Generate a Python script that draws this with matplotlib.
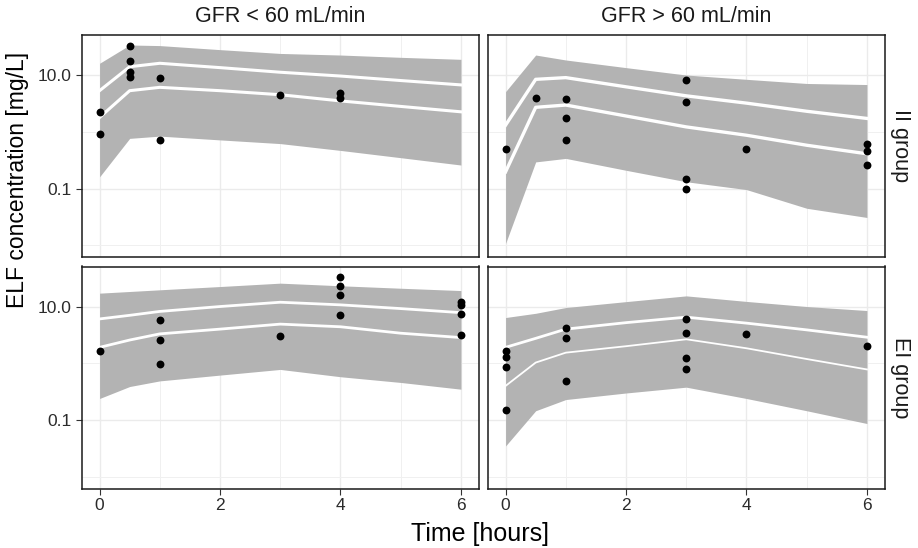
import matplotlib
matplotlib.use("Agg")
import matplotlib.pyplot as plt
from matplotlib.ticker import FixedLocator, NullFormatter

plt.rcParams['font.family'] = ['Liberation Sans', 'DejaVu Sans']

# data
times = [0, 0.5, 1, 2, 3, 4, 5, 6]
col_labels = ['GFR < 60 mL/min', 'GFR > 60 mL/min']
row_labels = ['II group', 'EI group']

# II group, GFR < 60
ii_lt_lo = [0.161, 0.766, 0.84, 0.72, 0.62, 0.47, 0.35, 0.26]
ii_lt_mlo = [1.79, 5.3, 6.07, 5.3, 4.5, 3.5, 2.8, 2.25]
ii_lt_mhi = [5.3, 14.0, 16.1, 13.5, 11.2, 9.6, 8.0, 6.7]
ii_lt_hi = [16.1, 33.8, 33.0, 28.0, 24.0, 22.5, 20.5, 18.9]
ii_lt_t = [0, 0, 0.5, 0.5, 0.5, 0.5, 1, 1, 3, 4, 4]
ii_lt_c = [2.25, 0.9, 32.4, 17.9, 11.5, 9.3, 9.0, 0.73, 4.4, 4.9, 4.0]

# II group, GFR > 60
ii_gt_lo = [0.0108, 0.295, 0.34, 0.21, 0.132, 0.096, 0.045, 0.031]
ii_gt_mlo = [0.197, 2.7, 2.96, 1.9, 1.22, 0.87, 0.58, 0.41]
ii_gt_mhi = [1.31, 8.4, 9.0, 6.2, 4.3, 3.2, 2.3, 1.72]
ii_gt_hi = [5.1, 22.5, 18.4, 13.5, 10.0, 8.4, 7.1, 6.8]
ii_gt_t = [0, 0.5, 1, 1, 1, 3, 3, 3, 3, 4, 6, 6, 6]
ii_gt_c = [0.50, 4.0, 3.8, 1.72, 0.73, 8.1, 3.3, 0.15, 0.10, 0.50, 0.61, 0.45, 0.26]

# EI group, GFR < 60
ei_lt_lo = [0.24, 0.39, 0.49, 0.62, 0.78, 0.58, 0.46, 0.35]
ei_lt_mlo = [1.91, 2.57, 3.3, 4.0, 4.9, 4.4, 3.39, 2.84]
ei_lt_mhi = [6.05, 7.0, 8.2, 10.0, 11.9, 10.7, 9.2, 7.8]
ei_lt_hi = [17.2, 18.4, 19.7, 22.5, 25.8, 23.2, 21.0, 19.1]
ei_lt_t = [0, 1, 1, 1, 3, 4, 4, 4, 4, 6, 6, 6, 6]
ei_lt_c = [1.65, 5.9, 2.62, 0.96, 3.08, 33.4, 23.2, 16.1, 7.1, 11.9, 10.7, 7.4, 3.16]

# EI group, GFR > 60
ei_gt_lo = [0.035, 0.146, 0.23, 0.3, 0.38, 0.24, 0.146, 0.087]
ei_gt_mlo = [0.40, 1.03, 1.54, 2.0, 2.65, 1.84, 1.19, 0.78]
ei_gt_mhi = [1.91, 2.75, 4.0, 5.2, 6.5, 5.1, 3.88, 2.88]
ei_gt_hi = [6.4, 7.6, 9.6, 12.2, 15.4, 12.3, 10.0, 8.5]
ei_gt_t = [0, 0, 0, 0, 1, 1, 1, 3, 3, 3, 3, 4, 6]
ei_gt_c = [1.67, 1.28, 0.86, 0.15, 4.15, 2.8, 0.48, 6.1, 3.38, 1.26, 0.79, 3.3, 2.02]

panels = [
    [(ii_lt_lo, ii_lt_mlo, ii_lt_mhi, ii_lt_hi, ii_lt_t, ii_lt_c),
     (ii_gt_lo, ii_gt_mlo, ii_gt_mhi, ii_gt_hi, ii_gt_t, ii_gt_c)],
    [(ei_lt_lo, ei_lt_mlo, ei_lt_mhi, ei_lt_hi, ei_lt_t, ei_lt_c),
     (ei_gt_lo, ei_gt_mlo, ei_gt_mhi, ei_gt_hi, ei_gt_t, ei_gt_c)],
]

# white line widths per panel (lower, upper)
line_w = [[(2.2, 2.2), (2.4, 2.4)], [(2.0, 2.0), (1.3, 2.0)]]

# layout (pixels of a 918x548 canvas)
W, H = 918, 548
col_x = [81.5, 487.5]
row_y = [35, 266.5]
pw, ph = 397.5, 222

fig = plt.figure(figsize=(W / 100, H / 100), dpi=100)

for r in range(2):
    for c in range(2):
        lo, mlo, mhi, hi, pt, pc = panels[r][c]
        ax = fig.add_axes([col_x[c] / W, 1 - (row_y[r] + ph) / H, pw / W, ph / H])
        ax.set_yscale('log')
        ax.set_xlim(-0.3, 6.3)
        ax.set_ylim(10 ** -2.205, 10 ** 1.705)

        ax.fill_between(times, lo, hi, color='#B3B3B3', lw=0, zorder=2)
        ax.plot(times, mlo, color='white', lw=line_w[r][c][0], zorder=3)
        ax.plot(times, mhi, color='white', lw=line_w[r][c][1], zorder=3)
        ax.scatter(pt, pc, s=32, color='black', lw=0, zorder=4)

        ax.xaxis.set_major_locator(FixedLocator([0, 2, 4, 6]))
        ax.xaxis.set_minor_locator(FixedLocator([1, 3, 5]))
        ax.yaxis.set_major_locator(FixedLocator([0.1, 10]))
        ax.yaxis.set_minor_locator(FixedLocator([0.01, 1]))
        ax.yaxis.set_minor_formatter(NullFormatter())
        ax.grid(which='major', color='#EBEBEB', lw=1.0, zorder=0)
        ax.grid(which='minor', color='#F0F0F0', lw=0.7, zorder=0)
        ax.set_axisbelow(True)
        ax.tick_params(which='minor', length=0)
        ax.tick_params(which='major', length=4, width=0.8, color='#333333',
                       labelsize=12.5, labelcolor='#2B2B2B', pad=3)
        for sp in ax.spines.values():
            sp.set_color('#1A1A1A')
            sp.set_linewidth(1.1)

        if c == 0:
            ax.set_yticklabels(['0.1', '10.0'])
        else:
            ax.tick_params(axis='y', length=0, labelleft=False)
        if r == 1:
            ax.set_xticklabels(['0', '2', '4', '6'])
        else:
            ax.tick_params(axis='x', length=0, labelbottom=False)

        if r == 0:
            ax.text(0.5, 1.0 + 18 / ph, col_labels[c], transform=ax.transAxes,
                    ha='center', va='center', fontsize=15.5, color='#1A1A1A')
        if c == 1:
            ax.text(1.0 + 16 / pw, 0.5, row_labels[r], transform=ax.transAxes,
                    ha='center', va='center', rotation=-90, fontsize=15.5,
                    color='#1A1A1A')

fig.text(480 / W, 1 - 534 / H, 'Time [hours]', ha='center', va='center', fontsize=18)
fig.text(18 / W, 1 - 180 / H, 'ELF concentration [mg/L]', ha='center', va='center',
         rotation=90, fontsize=16.5)

fig.savefig('out.png', dpi=100)
